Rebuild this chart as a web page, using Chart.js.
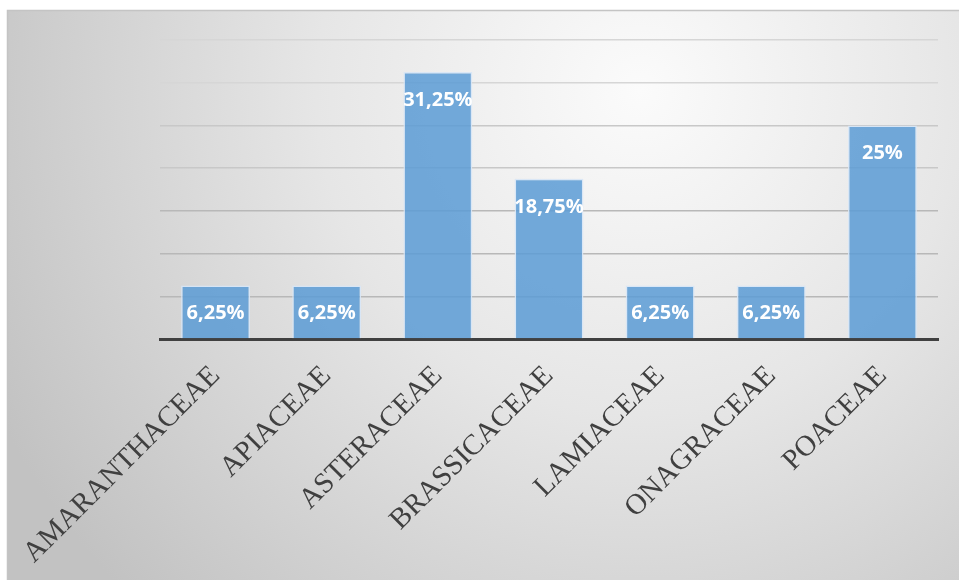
<!DOCTYPE html>
<html>
<head>
<meta charset="utf-8">
<script src="https://cdn.jsdelivr.net/npm/chart.js@4/dist/chart.umd.min.js"></script>
<style>
  html, body { margin: 0; padding: 0; background: #ffffff; }
  canvas { display: block; }
</style>
</head>
<body>
<canvas id="familyChart" width="959" height="580"></canvas>
<script>
// families et pourcentages
const families = ['AMARANTHACEAE', 'APIACEAE', 'ASTERACEAE', 'BRASSICACEAE', 'LAMIACEAE', 'ONAGRACEAE', 'POACEAE'];
const percents = [6.25, 6.25, 31.25, 18.75, 6.25, 6.25, 25];
const yMax = 35;
const yStep = 5;

// fond en dégradé + cadre
const backgroundPlugin = {
  id: 'frameBackground',
  beforeDraw(chart) {
    const ctx = chart.ctx;
    ctx.save();
    const g = ctx.createRadialGradient(640, 90, 0, 640, 90, 720);
    g.addColorStop(0, '#fbfbfb');
    g.addColorStop(0.45, '#e6e6e6');
    g.addColorStop(1, '#c2c2c2');
    ctx.fillStyle = g;
    ctx.fillRect(7, 10, 952, 570);
    ctx.strokeStyle = '#c4c4c4';
    ctx.lineWidth = 1.5;
    ctx.beginPath();
    ctx.moveTo(7.5, 580);
    ctx.lineTo(7.5, 10.5);
    ctx.lineTo(959, 10.5);
    ctx.stroke();
    ctx.restore();
  }
};

// étiquettes de valeur dans les barres
const valueLabels = {
  id: 'valueLabels',
  afterDatasetsDraw(chart) {
    const ctx = chart.ctx;
    const meta = chart.getDatasetMeta(0);
    ctx.save();
    ctx.fillStyle = '#ffffff';
    ctx.font = 'bold 20px "Open Sans", sans-serif';
    ctx.textAlign = 'center';
    ctx.textBaseline = 'middle';
    meta.data.forEach((bar, i) => {
      const txt = String(percents[i]).replace('.', ',') + '%';
      ctx.fillText(txt, bar.x, bar.y + 28);
    });
    ctx.restore();
  }
};

new Chart(document.getElementById('familyChart'), {
  type: 'bar',
  data: {
    labels: families,
    datasets: [{
      data: percents,
      backgroundColor: 'rgba(91,155,213,0.85)',
      borderColor: 'rgba(215,230,246,0.9)',
      borderWidth: 1.5,
      barPercentage: 0.62,
      categoryPercentage: 1
    }]
  },
  options: {
    responsive: false,
    devicePixelRatio: 1,
    animation: false,
    layout: { padding: { left: 160, top: 40, right: 21, bottom: 0 } },
    plugins: {
      legend: { display: false },
      tooltip: { enabled: false }
    },
    scales: {
      x: {
        grid: { display: false },
        border: { display: true, color: '#404040', width: 3 },
        ticks: {
          color: '#404040',
          font: { family: '"Liberation Serif", "Times New Roman", serif', size: 29 },
          minRotation: 45,
          maxRotation: 45,
          padding: 12
        },
        afterFit(scale) { scale.height = 241; }
      },
      y: {
        min: 0,
        max: yMax,
        ticks: { display: false, stepSize: yStep },
        grid: {
          color: (c) => c.tick && c.tick.value >= 30 ? '#d6d6d6' : (c.tick && c.tick.value >= 20 ? '#c8c8c8' : '#b8b8b8'),
          lineWidth: 1.5,
          drawTicks: false
        },
        border: { display: false },
        afterFit(scale) { scale.width = 0; }
      }
    }
  },
  plugins: [backgroundPlugin, valueLabels]
});
</script>
</body>
</html>
